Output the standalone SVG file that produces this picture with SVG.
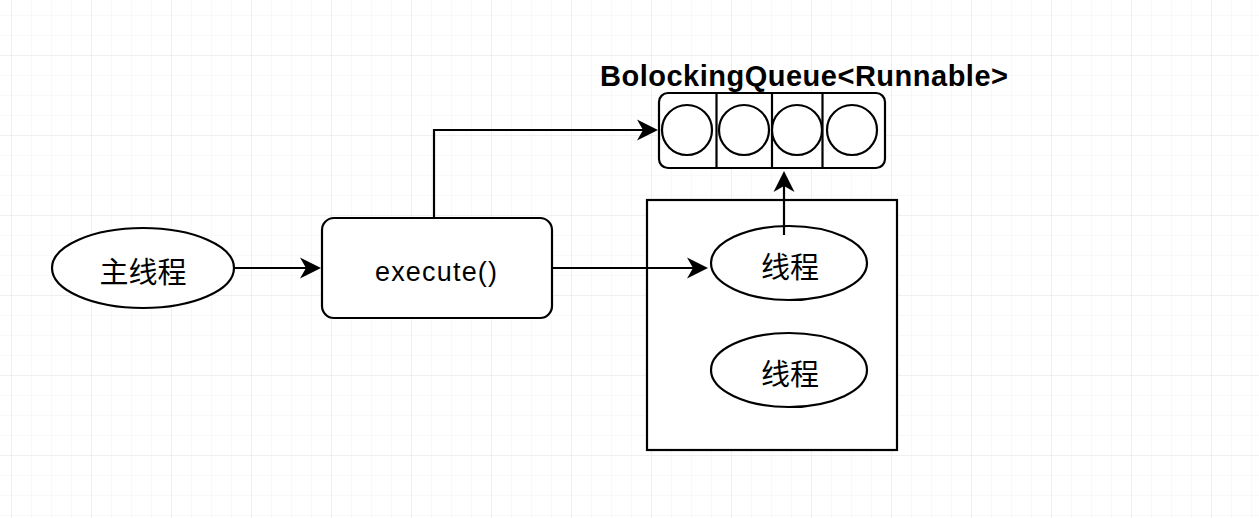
<svg xmlns="http://www.w3.org/2000/svg" width="1259" height="518" viewBox="0 0 1259 518">
  <style>
    .shape { fill: #ffffff; stroke: #000000; stroke-width: 2.2; }
    .line { fill: none; stroke: #000000; stroke-width: 2.2; }
    .cjk { font-family: "Liberation Sans", "Noto Sans CJK SC", sans-serif; font-size: 29px; fill: #000000; }
    .lbl { font-family: "Liberation Sans", Arial, sans-serif; font-size: 27px; fill: #000000; }
    .title { font-family: "Liberation Sans", Arial, sans-serif; font-size: 29px; font-weight: bold; fill: #000000; }
  </style>
  <defs>
    <pattern id="minor" x="11" y="15" width="20" height="20" patternUnits="userSpaceOnUse">
      <path d="M0,0 H20 M0,0 V20" fill="none" stroke="#f3f3f3" stroke-width="1"/>
    </pattern>
    <pattern id="major" x="11" y="55" width="80" height="80" patternUnits="userSpaceOnUse">
      <path d="M0,0 H80 M0,0 V80" fill="none" stroke="#e6e6e6" stroke-width="1"/>
    </pattern>
    <marker id="arrow" markerUnits="userSpaceOnUse" markerWidth="22" markerHeight="22" viewBox="0 0 22 22" refX="11" refY="11" orient="auto">
      <path d="M0,0.5 L21,11 L0,21.5 L6,11 Z" fill="#000000" stroke="none"/>
    </marker>
  </defs>
  <rect x="0" y="0" width="1259" height="518" fill="#ffffff"/>
  <rect x="0" y="0" width="1259" height="518" fill="url(#minor)"/>
  <rect x="0" y="0" width="1259" height="518" fill="url(#major)"/>

  <g id="main-thread">
    <ellipse class="shape" cx="143" cy="268" rx="91" ry="40"/>
    <text class="cjk" x="143" y="283" text-anchor="middle">主线程</text>
  </g>

  <g id="execute">
    <rect class="shape" x="322" y="218" width="230" height="100" rx="12" ry="12"/>
    <text class="lbl" x="436" y="281" text-anchor="middle" textLength="122" lengthAdjust="spacing">execute()</text>
  </g>

  <g id="pool">
    <rect class="shape" x="647" y="200" width="250" height="250"/>
  </g>

  <g id="thread1">
    <ellipse class="shape" cx="789" cy="263" rx="78" ry="37"/>
    <text class="cjk" x="790" y="278" text-anchor="middle">线程</text>
  </g>

  <g id="thread2">
    <ellipse class="shape" cx="789" cy="370" rx="78" ry="37"/>
    <text class="cjk" x="790" y="385" text-anchor="middle">线程</text>
  </g>

  <g id="queue">
    <text class="title" x="804" y="86" text-anchor="middle" textLength="408" lengthAdjust="spacing">BolockingQueue&lt;Runnable&gt;</text>
    <rect class="shape" x="659" y="93" width="226" height="75" rx="9" ry="9"/>
    <path class="line" d="M716.5,93 V168 M772,93 V168 M822.5,93 V168"/>
    <circle class="shape" cx="687" cy="130" r="25"/>
    <circle class="shape" cx="744" cy="130" r="25"/>
    <circle class="shape" cx="797" cy="130" r="25"/>
    <circle class="shape" cx="852" cy="130" r="25"/>
  </g>

  <g id="connectors">
    <path class="line" d="M235,268 H311" marker-end="url(#arrow)"/>
    <path class="line" d="M552,268 H698" marker-end="url(#arrow)"/>
    <path class="line" d="M434,218 V130 H648" marker-end="url(#arrow)"/>
    <path class="line" d="M784,235 V181" marker-end="url(#arrow)"/>
  </g>
</svg>
